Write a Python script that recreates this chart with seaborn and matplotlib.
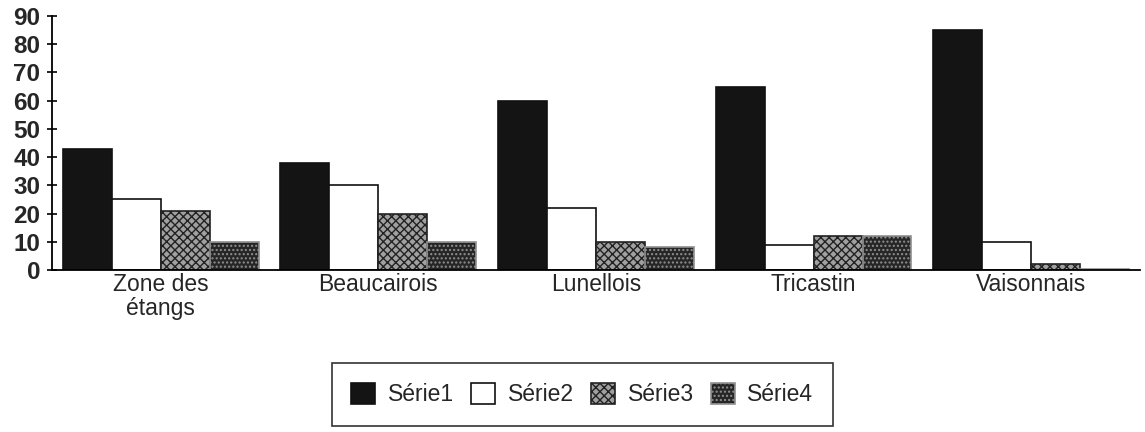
import pandas as pd
import seaborn as sns
import matplotlib.pyplot as plt

# Données
zones = ["Zone des\nétangs", "Beaucairois", "Lunellois", "Tricastin", "Vaisonnais"]
series = ["Série1", "Série2", "Série3", "Série4"]
serie1 = [43, 38, 60, 65, 85]
serie2 = [25, 30, 22, 9, 10]
serie3 = [21, 20, 10, 12, 2]
serie4 = [10, 10, 8, 12, 0.5]
y_ticks = [0, 10, 20, 30, 40, 50, 60, 70, 80, 90]

df = pd.DataFrame({"zone": zones, "Série1": serie1, "Série2": serie2,
                   "Série3": serie3, "Série4": serie4})
df = df.melt(id_vars="zone", var_name="serie", value_name="valeur")

sns.set_style("white")
plt.rcParams['font.family'] = ['Liberation Sans', 'DejaVu Sans']

fig = plt.figure(figsize=(11.45, 4.32), dpi=100)
ax = fig.add_axes([0.0454, 0.375, 0.9502, 0.588])

sns.barplot(data=df, x="zone", y="valeur", hue="serie", order=zones,
            hue_order=series, width=0.9, gap=0, ax=ax, legend=False,
            palette=["#111111"] * 4, saturation=1)

# Motifs des séries
styles = {
    "Série1": dict(facecolor="#141414", hatch=None, edgecolor="#111111"),
    "Série2": dict(facecolor="white", hatch=None, edgecolor="#111111"),
    "Série3": dict(facecolor="#a0a0a0", hatch="xxxx", edgecolor="#222222"),
    "Série4": dict(facecolor="#262626", hatch="....", edgecolor="#909090"),
}
for cont, s in zip(ax.containers, series):
    st = styles[s]
    for p in cont:
        p.set_facecolor(st["facecolor"])
        p.set_edgecolor(st["edgecolor"])
        p.set_linewidth(1.2)
        if st["hatch"]:
            p.set_hatch(st["hatch"])

ax.set_xlim(-0.5, 4.5)
ax.set_ylim(0, 90)
ax.set_yticks(y_ticks)
ax.set_yticklabels([str(v) for v in y_ticks], fontsize=17.5, fontweight="bold")
ax.set_xticks(range(len(zones)))
ax.set_xticklabels(zones, fontsize=16.5, linespacing=1.05, va="top")
ax.set_xticks([0.5, 1.5, 2.5, 3.5], minor=True)
ax.tick_params(axis="x", which="major", length=0, pad=2)
ax.tick_params(axis="x", which="minor", length=7, direction="inout",
               width=1.2, color="black")
ax.tick_params(axis="y", length=7, direction="inout", width=1.2,
               color="black", pad=5, left=True)
ax.set_xlabel("")
ax.set_ylabel("")

sns.despine(ax=ax, top=True, right=True)
for sp in ["left", "bottom"]:
    ax.spines[sp].set_color("black")
    ax.spines[sp].set_linewidth(1.3)

# Légende
handles = [cont[0] for cont in ax.containers]
leg = fig.legend(handles, series, loc="center", ncol=4,
                 bbox_to_anchor=(0.5085, 0.087), fontsize=16.5,
                 frameon=True, fancybox=False, edgecolor="black",
                 handlelength=1.05, handleheight=1.05, handletextpad=0.55,
                 columnspacing=0.75, borderpad=0.85, borderaxespad=0)
leg.get_frame().set_linewidth(1.2)

fig.savefig("out.png", dpi=100)
